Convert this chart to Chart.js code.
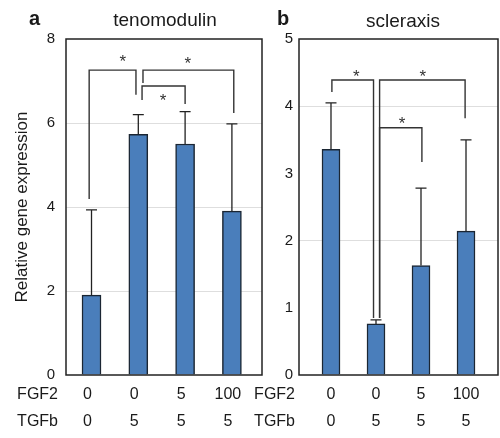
<!DOCTYPE html>
<html>
<head>
<meta charset="utf-8">
<script src="https://cdn.jsdelivr.net/npm/chart.js@4.4.1/dist/chart.umd.min.js"></script>
<style>
  html, body { margin: 0; padding: 0; background: #fff; }
  #wrap { position: relative; width: 500px; height: 438px; overflow: hidden;
          font-family: "Liberation Sans", Arial, sans-serif; color: #1a1a1a; }
  canvas { position: absolute; top: 0; }
  .lbl { position: absolute; line-height: 1; white-space: nowrap; }
</style>
</head>
<body>
<div id="wrap">
  <canvas id="chartA" width="266" height="438" style="left:0"></canvas>
  <canvas id="chartB" width="250" height="438" style="left:250px"></canvas>
  <div class="lbl" style="left:29px;top:8px;font-size:20px;font-weight:bold">a</div>
  <div class="lbl" style="left:65px;top:10px;width:200px;text-align:center;font-size:19px">tenomodulin</div>
  <div class="lbl" style="left:277px;top:8px;font-size:20px;font-weight:bold">b</div>
  <div class="lbl" style="left:303px;top:11px;width:200px;text-align:center;font-size:19px">scleraxis</div>
</div>
<script>
// treatment table under the bars
const fgf2 = ['0', '0', '5', '100'];
const tgfb = ['0', '5', '5', '5'];

// tenomodulin (panel a)
const tenoMean = [1.9, 5.73, 5.5, 3.9];
const tenoSD = [2.03, 0.47, 0.77, 2.08];

// scleraxis (panel b)
const sclxMean = [3.36, 0.76, 1.63, 2.14];
const sclxSD = [0.69, 0.06, 1.15, 1.36];

// significance brackets: [xLeft, xRight, level, leftLegEnd, rightLegEnd, starX, starY]
const tenoBrackets = [
    [-0.05, 0.95, 7.26, 4.19, 6.67, 0.67, 7.55],
    [1.1, 3.04, 7.26, 6.95, 6.24, 2.06, 7.5],
    [1.08, 2.0, 6.88, 6.55, 6.45, 1.53, 6.6]
];
const sclxBrackets = [
    [0.02, 0.945, 4.39, 4.21, 0.85, 0.56, 4.49],
    [1.08, 2.98, 4.39, 0.85, 3.82, 2.04, 4.49],
    [1.08, 2.02, 3.68, 0.85, 3.17, 1.58, 3.79]
];

const FONT = '"Liberation Sans", Arial, sans-serif';
Chart.defaults.font.family = FONT;
Chart.defaults.color = '#1a1a1a';

const panelPlugin = {
    id: 'panelExtras',
    afterDatasetsDraw(chart, args, opts) {
        const {ctx, chartArea: a, scales: {x, y}} = chart;
        ctx.save();

        // error bars (upper only)
        ctx.strokeStyle = '#222';
        ctx.lineWidth = 1.3;
        opts.mean.forEach((m, i) => {
            const px = x.getPixelForValue(i);
            const top = y.getPixelForValue(m + opts.sd[i]);
            ctx.beginPath();
            ctx.moveTo(px, y.getPixelForValue(m));
            ctx.lineTo(px, top);
            ctx.moveTo(px - 5.5, top);
            ctx.lineTo(px + 5.5, top);
            ctx.stroke();
        });

        // plot frame
        ctx.strokeStyle = '#222';
        ctx.lineWidth = 1.5;
        ctx.strokeRect(a.left, a.top, a.right - a.left, a.bottom - a.top);

        // brackets and stars
        ctx.strokeStyle = '#333';
        ctx.lineWidth = 1.4;
        ctx.fillStyle = '#333';
        ctx.font = '17px ' + FONT;
        ctx.textAlign = 'center';
        ctx.textBaseline = 'middle';
        opts.brackets.forEach(b => {
            const x1 = x.getPixelForValue(b[0]);
            const x2 = x.getPixelForValue(b[1]);
            ctx.beginPath();
            ctx.moveTo(x1, y.getPixelForValue(b[3]));
            ctx.lineTo(x1, y.getPixelForValue(b[2]));
            ctx.lineTo(x2, y.getPixelForValue(b[2]));
            ctx.lineTo(x2, y.getPixelForValue(b[4]));
            ctx.stroke();
            ctx.fillText('*', x.getPixelForValue(b[5]), y.getPixelForValue(b[6]) + 4);
        });

        // row headers of the treatment table
        ctx.fillStyle = '#1a1a1a';
        ctx.font = '16px ' + FONT;
        ctx.textAlign = 'right';
        ctx.fillText('FGF2', a.left - opts.headGap, a.bottom + 20);
        ctx.fillText('TGFb', a.left - opts.headGap, a.bottom + 47);
        ctx.restore();
    }
};

function makePanel(id, mean, sd, brackets, o) {
    return new Chart(document.getElementById(id), {
        type: 'bar',
        data: {
            datasets: [{
                data: mean.map((v, i) => ({x: i, y: v})),
                backgroundColor: '#4a7ebb',
                borderColor: '#1b2633',
                borderWidth: 1.5,
                barThickness: o.barW
            }]
        },
        options: {
            responsive: false,
            animation: false,
            layout: { padding: { top: 39, right: o.padRight, bottom: 0, left: 0 } },
            scales: {
                x: {
                    type: 'linear',
                    offset: false,
                    min: o.xMin,
                    max: o.xMax,
                    grid: { display: false, drawTicks: false, offset: false },
                    border: { display: false },
                    ticks: {
                        stepSize: 1,
                        includeBounds: false,
                        autoSkip: false,
                        maxRotation: 0,
                        padding: 6.5,
                        labelOffset: o.labelOffset,
                        font: { size: 16, lineHeight: 1.69 },
                        color: '#1a1a1a',
                        callback: v => (Number.isInteger(v) && v >= 0 && v < 4) ? [fgf2[v], tgfb[v]] : ''
                    },
                    afterFit: s => { s.height = 63; }
                },
                y: {
                    min: 0,
                    max: o.yMax,
                    grid: {
                        drawTicks: false,
                        color: c => (c.tick && c.tick.value > 0 && c.tick.value < o.yMax && c.tick.value % 2 === 0) ? '#dedede' : 'rgba(0,0,0,0)'
                    },
                    border: { display: false },
                    ticks: { stepSize: o.step, padding: o.tickPad, font: { size: 15 }, color: '#1a1a1a' },
                    title: {
                        display: !!o.yTitle,
                        text: o.yTitle || '',
                        font: { size: 17 },
                        color: '#1a1a1a',
                        padding: { top: 12, bottom: 0 }
                    },
                    afterFit: s => { s.width = o.axisW; }
                }
            },
            plugins: {
                legend: { display: false },
                tooltip: { enabled: false },
                panelExtras: { mean: mean, sd: sd, brackets: brackets, headGap: o.headGap }
            }
        },
        plugins: [panelPlugin]
    });
}

makePanel('chartA', tenoMean, tenoSD, tenoBrackets, {
    xMin: -0.545, xMax: 3.643, yMax: 8, step: 2, barW: 19, padRight: 4,
    axisW: 66, tickPad: 11, labelOffset: -4, headGap: 8,
    yTitle: 'Relative gene expression'
});
makePanel('chartB', sclxMean, sclxSD, sclxBrackets, {
    xMin: -0.711, xMax: 3.711, yMax: 5, step: 1, barW: 18, padRight: 2,
    axisW: 49, tickPad: 6, labelOffset: 0, headGap: 4
});
</script>
</body>
</html>
